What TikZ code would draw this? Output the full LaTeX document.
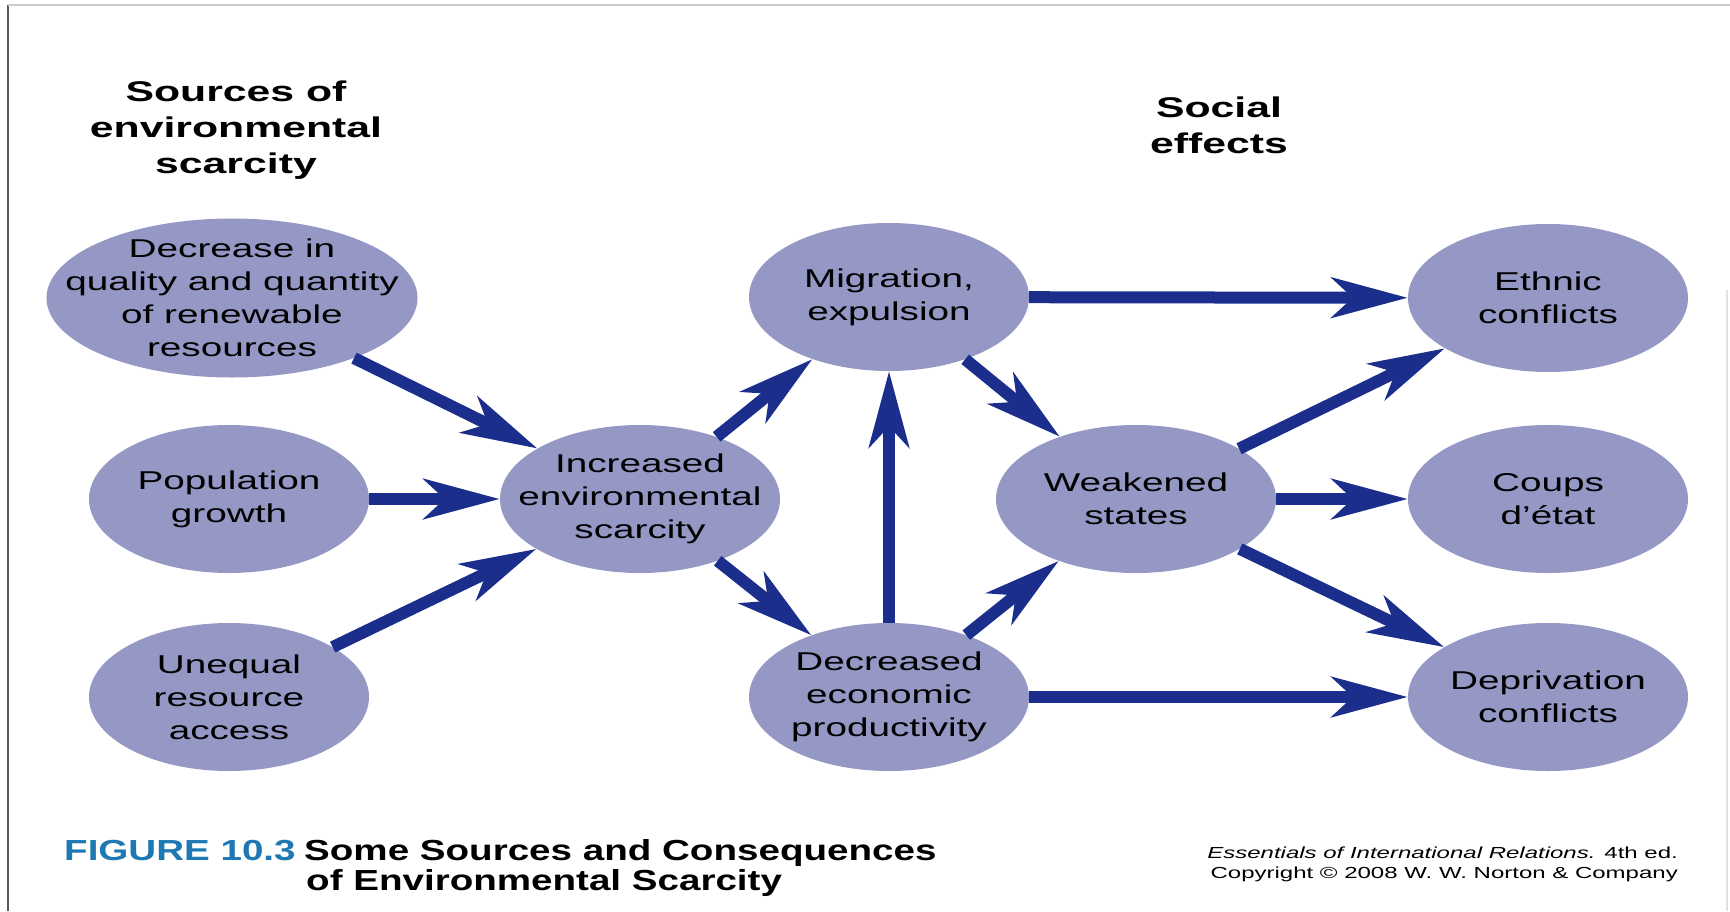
\documentclass[tikz,border=0pt]{standalone}
\usepackage{fontspec}
\setmainfont{Liberation Sans}[FakeStretch=1.5]
\newfontfamily\condfont{Liberation Sans}[FakeStretch=1.33]
\usetikzlibrary{shapes.geometric,arrows.meta}
\definecolor{bubblefill}{RGB}{149,151,197}
\definecolor{arrowblue}{RGB}{27,46,140}
\definecolor{figblue}{RGB}{30,120,180}

\begin{document}
\begin{tikzpicture}[x=1pt,y=-1pt,
        bubble/.style={ellipse, fill=bubblefill, minimum width=280pt, minimum height=148pt, inner sep=0pt},
        bubbletext/.style={align=center, inner sep=0pt, font=\fontsize{25.8pt}{33pt}\selectfont},
        heading/.style={align=center, inner sep=0pt, font=\fontsize{28.5pt}{36pt}\selectfont\bfseries},
        link/.style={draw=arrowblue, line width=12pt, -{Stealth[length=76pt,width=40pt,inset=21pt]}}]
        \useasboundingbox (0,0) rectangle (1730,911);

        % frame
        \draw[line width=2pt, black!65] (8,5) -- (8,911);
        \draw[line width=1.5pt, black!20] (8,5) -- (1730,5);
        \draw[line width=1.5pt, black!12] (1727,290) -- (1727,911);

        % headings
        \node[heading] (srchead) at (236,130) {Sources of\\environmental\\scarcity};
        \node[heading] (effhead) at (1219,125) {Social\\effects};

        % sources
        \node[bubble, minimum width=371pt, minimum height=159pt,
            label={[bubbletext]center:{Decrease in\\quality and quantity\\of renewable\\resources}}] (renew) at (232,298) {};
        \node[bubble, label={[bubbletext]center:{Population\\growth}}] (popgrowth) at (229,499) {};
        \node[bubble, label={[bubbletext]center:{Unequal\\resource\\access}}] (unequal) at (229,697) {};

        % middle
        \node[bubble, label={[bubbletext]center:{Increased\\environmental\\scarcity}}] (scarcity) at (640,499) {};
        \node[bubble, label={[bubbletext]center:{Migration,\\expulsion}}] (migration) at (889,297) {};
        \node[bubble, label={[bubbletext]center:{Decreased\\economic\\productivity}}] (economy) at (889,697) {};
        \node[bubble, label={[bubbletext]center:{Weakened\\states}}] (weakstates) at (1136,499) {};

        % social effects
        \node[bubble, label={[bubbletext]center:{Ethnic\\conflicts}}] (ethnic) at (1548,298) {};
        \node[bubble, label={[bubbletext]center:{Coups\\d’état}}] (coups) at (1548,499) {};
        \node[bubble, label={[bubbletext]center:{Deprivation\\conflicts}}] (deprivation) at (1548,697) {};

        \foreach \a/\b in {renew/scarcity, popgrowth/scarcity, unequal/scarcity,
                scarcity/migration, scarcity/economy, economy/migration,
                migration/weakstates, economy/weakstates, migration/ethnic,
                weakstates/ethnic, weakstates/coups, weakstates/deprivation,
                economy/deprivation}
        {
            \draw[link] (\a) -- (\b);
        }

        % caption
        \node[anchor=base west, inner sep=0pt, text=figblue,
            font=\condfont\fontsize{29pt}{31pt}\selectfont\bfseries] (figno) at (64,860) {FIGURE 10.3};
        \node[anchor=base west, inner sep=0pt,
            font=\condfont\fontsize{29pt}{31pt}\selectfont\bfseries] (figtitle) at (304,860) {Some Sources and Consequences};
        \node[anchor=base west, inner sep=0pt,
            font=\condfont\fontsize{29pt}{31pt}\selectfont\bfseries] (figtitleb) at (306,890) {of Environmental Scarcity};
        \node[anchor=base east, inner sep=0pt, font=\fontsize{16pt}{20pt}\selectfont] (book) at (1678,858)
            {\textit{Essentials of International Relations.} 4th ed.};
        \node[anchor=base east, inner sep=0pt, font=\fontsize{16pt}{20pt}\selectfont] (copyright) at (1678,878)
            {Copyright © 2008 W. W. Norton \& Company};
\end{tikzpicture}
\end{document}
